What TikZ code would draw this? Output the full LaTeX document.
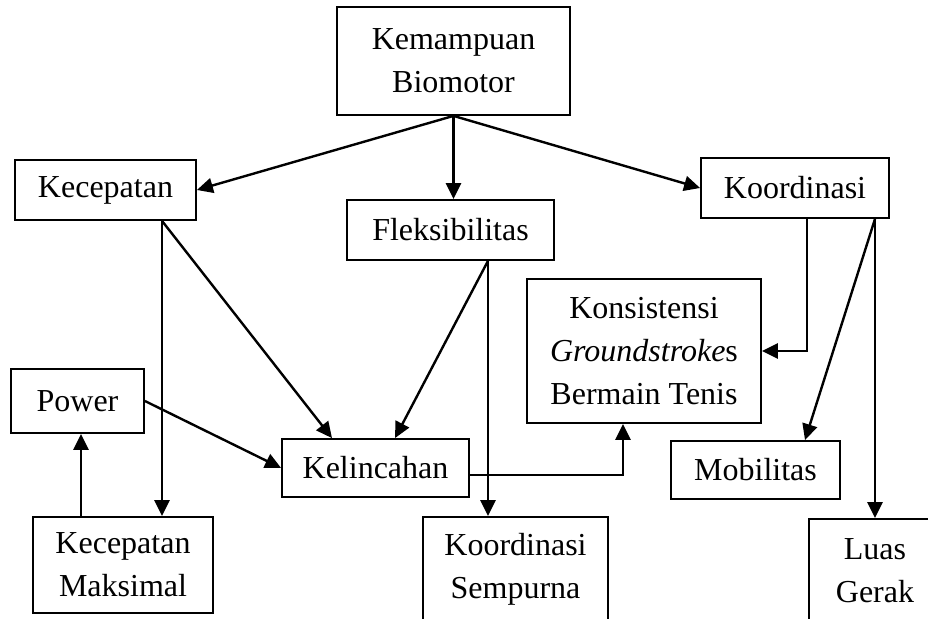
\documentclass[tikz,border=0pt]{standalone}
\usepackage{fontspec}
\setmainfont{Liberation Serif}
\usetikzlibrary{arrows.meta}
\tikzset{box/.style={draw,line width=0.9pt,align=center,inner sep=0pt}}
\begin{document}
\begin{tikzpicture}[x=0.5pt,y=-0.5pt,>={Triangle[length=8pt,width=7.5pt]},font=\fontsize{16}{21.5}\selectfont]
\useasboundingbox (0,0) rectangle (928,619);
\clip (0,0) rectangle (928,619);
\node[box,minimum width=116.5pt,minimum height=54pt](bio) at (453.5,61){Kemampuan\\Biomotor};
\node[box,minimum width=90.5pt,minimum height=30pt](kec) at (105.5,190){Kecepatan};
\node[box,minimum width=103.5pt,minimum height=30pt](fleks) at (450.5,230){Fleksibilitas};
\node[box,minimum width=94pt,minimum height=30pt](koord) at (795,188){Koordinasi};
\node[box,minimum width=117pt,minimum height=72pt](konsis) at (644,351){Konsistensi\\\textit{Groundstroke}s\\Bermain Tenis};
\node[box,minimum width=66.5pt,minimum height=32pt](power) at (77.5,401){Power};
\node[box,minimum width=93.5pt,minimum height=29pt](kelinc) at (375.5,468){Kelincahan};
\node[box,minimum width=84.5pt,minimum height=29pt](mobil) at (755.5,470){Mobilitas};
\node[box,minimum width=90pt,minimum height=48pt](kecmaks) at (123,565){Kecepatan\\Maksimal};
\node[box,minimum width=92.5pt,minimum height=52pt](ksemp) at (515.5,569){Koordinasi\\Sempurna};
\node[box,minimum width=66pt,minimum height=52pt](luas) at (875,571){Luas\\Gerak};

\begin{scope}[line width=1.2pt]
\draw[->](bio.south)--(kec.east);
\draw[->](bio.south)--(bio.south|-fleks.north);
\draw[->](bio.south)--(koord.west);

\draw[->]([xshift=28.25pt]kec.south)--([xshift=28.25pt]kec.south|-kecmaks.north);
\draw[->]([xshift=28.25pt]kec.south)--([xshift=-21.75pt]kelinc.north);
\draw[->]([xshift=18.75pt]fleks.south)--([xshift=9.75pt]kelinc.north);
\draw[->]([xshift=18.75pt]fleks.south)--([xshift=18.75pt]fleks.south|-ksemp.north);
\draw[->](power.east)--(kelinc.west);
\draw[->]([xshift=1.75pt]power.south|-kecmaks.north)--([xshift=1.75pt]power.south);
\draw[->]([yshift=-3.5pt]kelinc.east)-|([xshift=-10.5pt]konsis.south);

\draw[->]([xshift=6pt]koord.south)|-(konsis.east);
\draw[->]([xshift=40pt]koord.south)--([xshift=24.75pt]mobil.north);
\draw[->]([xshift=40pt]koord.south)--(luas.north);
\end{scope}
\end{tikzpicture}
\end{document}
